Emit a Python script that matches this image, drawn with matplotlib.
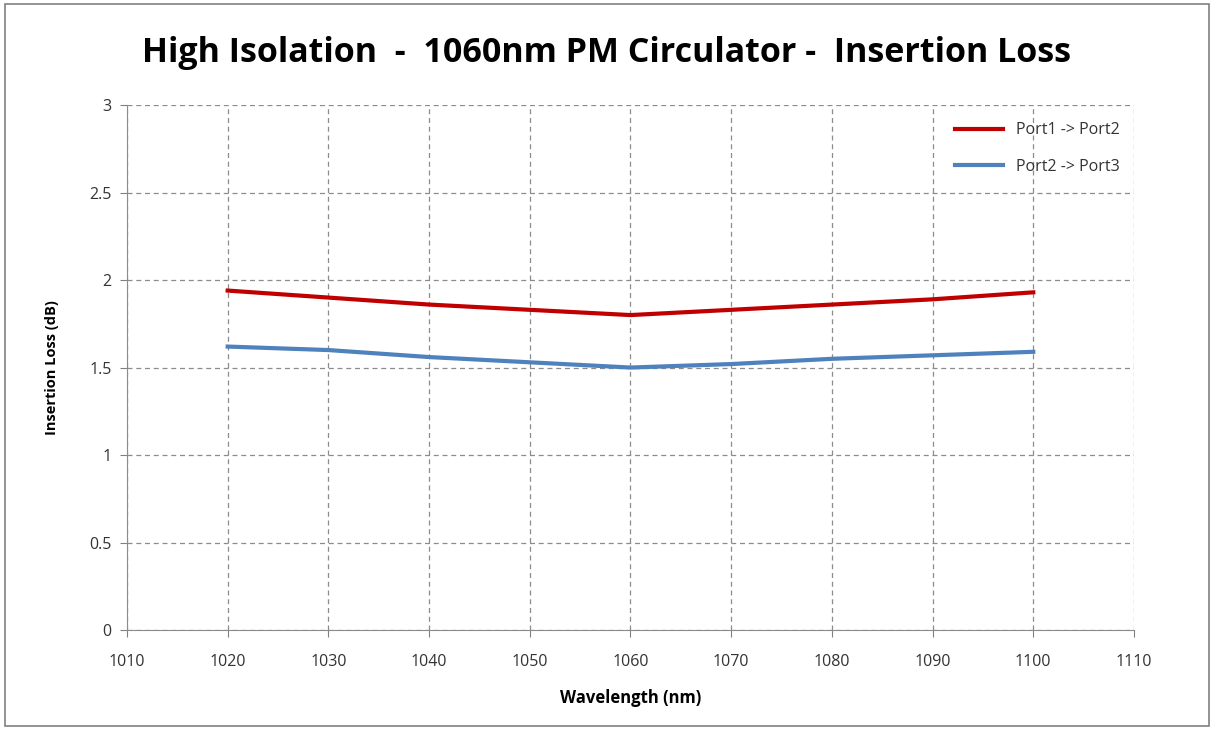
import matplotlib
matplotlib.use("Agg")
import matplotlib.pyplot as plt
from matplotlib.patches import Rectangle

# data
wavelength = [1020, 1030, 1040, 1050, 1060, 1070, 1080, 1090, 1100]
port1_port2 = [1.94, 1.90, 1.86, 1.83, 1.80, 1.83, 1.86, 1.89, 1.93]
port2_port3 = [1.62, 1.60, 1.56, 1.53, 1.50, 1.52, 1.55, 1.57, 1.59]
x_ticks = [1010, 1020, 1030, 1040, 1050, 1060, 1070, 1080, 1090, 1100, 1110]
y_ticks = [0, 0.5, 1, 1.5, 2, 2.5, 3]
y_tick_labels = ["0", "0.5", "1", "1.5", "2", "2.5", "3"]

plt.rcParams['font.family'] = ['Open Sans', 'DejaVu Sans']

fig = plt.figure(figsize=(12.14, 7.30), dpi=100)
ax = fig.add_axes([0.1046, 0.137, 0.8295, 0.719])

ax.plot(wavelength, port1_port2, color='#c00000', lw=3, label='Port1 -> Port2')
ax.plot(wavelength, port2_port3, color='#4f81bd', lw=3, label='Port2 -> Port3')

ax.set_xlim(1010, 1110)
ax.set_ylim(0, 3)
ax.set_xticks(x_ticks)
ax.set_yticks(y_ticks)
ax.set_yticklabels(y_tick_labels)
ax.tick_params(direction='out', length=5, color='#808080', labelsize=11.5,
               labelcolor='#333333', pad=6)
ax.tick_params(axis='x', pad=12)

ax.grid(True, linestyle=(0, (4, 3)), color='#8c8c8c', lw=0.9)
ax.set_axisbelow(True)
for s in ['top', 'right']:
    ax.spines[s].set_visible(False)
for s in ['left', 'bottom']:
    ax.spines[s].set_color('#8c8c8c')

ax.set_xlabel('Wavelength (nm)', fontsize=12, fontweight='bold', labelpad=14)
ax.set_ylabel('Insertion Loss (dB)', fontsize=10.5, fontweight='bold', labelpad=22)

fig.suptitle('High Isolation  -  1060nm PM Circulator -  Insertion Loss',
             fontsize=24.5, fontweight='bold', y=0.95)

leg = ax.legend(loc='upper right', frameon=False, fontsize=11.5,
                labelspacing=1.3, handlelength=3, bbox_to_anchor=(1.0, 0.995))
for t in leg.get_texts():
    t.set_color('#333333')

fig.patches.append(Rectangle((0.004, 0.006), 0.992, 0.988, transform=fig.transFigure,
                             fill=False, edgecolor='#808080', lw=1.2))

fig.savefig('out.png', dpi=100)
